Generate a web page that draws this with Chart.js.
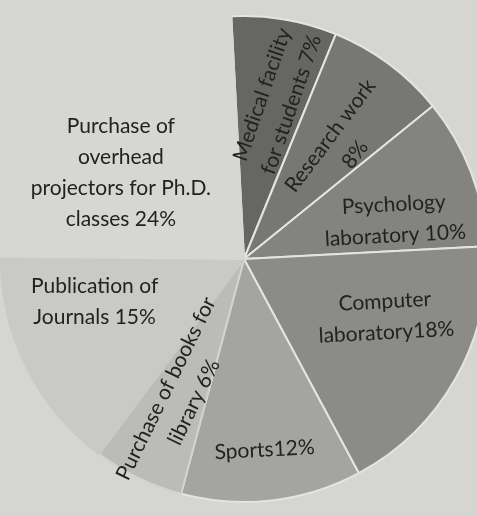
<!DOCTYPE html>
<html>
<head>
<meta charset="utf-8">
<script src="https://cdn.jsdelivr.net/npm/chart.js@4.4.0/dist/chart.umd.min.js"></script>
<style>
  html, body { margin: 0; padding: 0; background: #d5d5d1; overflow: hidden; width: 477px; height: 516px; }
  #wrap { position: absolute; left: 0; top: 0; width: 488px; height: 516px; }
</style>
</head>
<body>
<div id="wrap"><canvas id="c"></canvas></div>
<script>
// ---- data ----
const categories = [
  'Medical facility for students',
  'Research work',
  'Psychology laboratory',
  'Computer laboratory',
  'Sports',
  'Purchase of books for library',
  'Publication of Journals',
  'Purchase of overhead projectors for Ph.D. classes'
];
const shares = [7, 8, 10, 18, 12, 6, 15, 24];
const labelLines = [
  ['Medical facility', 'for students 7%'],
  ['Research work', '8%'],
  ['Psychology', 'laboratory 10%'],
  ['Computer', 'laboratory18%'],
  ['Sports12%'],
  ['Purchase of books for', 'library 6%'],
  ['Publication of', 'Journals 15%'],
  ['Purchase of', 'overhead', 'projectors for Ph.D.', 'classes 24%']
];

// ---- styling / label placement (t: fraction across slice, r: fraction of radius, rot: degrees) ----
const sliceColors = ['#666663', '#777774', '#838380', '#8b8b88', '#a4a4a1', '#bbbbb8', '#c9c9c6', '#d6d6d2'];
const sliceBorders = ['#e4e4e0', '#e4e4e0', '#e4e4e0', '#e4e4e0', '#e4e4e0', '#d2d2ce', '#c9c9c6', '#d6d6d2'];
const labelLayout = [
  { t: 0.58, r: 0.67, rot: -71 },
  { t: 0.65, r: 0.62, rot: -53 },
  { t: 0.68, r: 0.64, rot: -3 },
  { t: 0.39, r: 0.63, rot: -3 },
  { t: 0.51, r: 0.79, rot: -3 },
  { t: 0.47, r: 0.62, rot: -64 },
  { t: 0.69, r: 0.64, rot: 0 },
  { t: 0.40, r: 0.62, rot: 0 }
];

const sliceLabels = {
  id: 'sliceLabels',
  afterDatasetsDraw(chart) {
    const ctx = chart.ctx;
    const meta = chart.getDatasetMeta(0);
    ctx.save();
    ctx.font = '21px Lato, "Open Sans", sans-serif';
    ctx.fillStyle = '#222220';
    ctx.textAlign = 'center';
    ctx.textBaseline = 'middle';
    const lh = 31;
    meta.data.forEach((arc, i) => {
      const p = arc.getProps(['x', 'y', 'startAngle', 'endAngle', 'outerRadius'], true);
      const L = labelLayout[i];
      const a = p.startAngle + L.t * (p.endAngle - p.startAngle);
      const px = p.x + Math.cos(a) * p.outerRadius * L.r;
      const py = p.y + Math.sin(a) * p.outerRadius * L.r;
      const lines = labelLines[i];
      ctx.save();
      ctx.translate(px, py);
      ctx.rotate(L.rot * Math.PI / 180);
      lines.forEach((ln, k) => {
        ctx.fillText(ln, 0, (k - (lines.length - 1) / 2) * lh);
      });
      ctx.restore();
    });
    ctx.restore();
  }
};

new Chart(document.getElementById('c'), {
  type: 'pie',
  data: {
    labels: categories,
    datasets: [{
      data: shares,
      backgroundColor: sliceColors,
      borderColor: sliceBorders,
      borderWidth: 2
    }]
  },
  options: {
    responsive: true,
    maintainAspectRatio: false,
    animation: false,
    rotation: -3,
    layout: { padding: { top: 14, bottom: 12, left: 0, right: 0 } },
    plugins: {
      legend: { display: false },
      tooltip: { enabled: false }
    }
  },
  plugins: [sliceLabels]
});
</script>
</body>
</html>
